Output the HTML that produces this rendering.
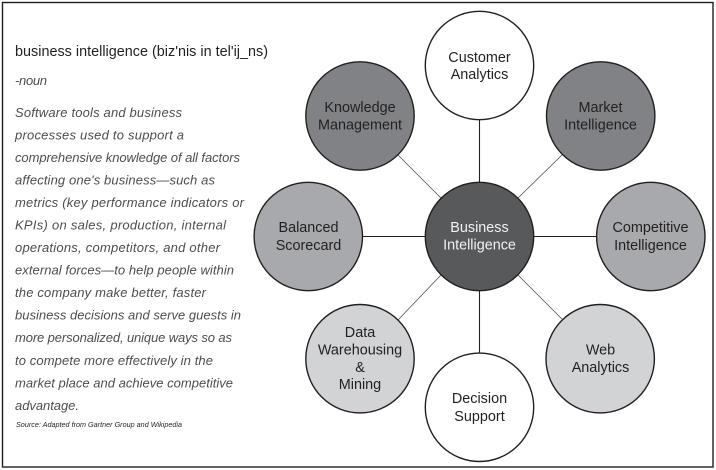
<!DOCTYPE html>
<html><head><meta charset="utf-8"><style>
html,body{margin:0;padding:0;background:#fff}
svg{display:block}
text{font-family:"Liberation Sans",sans-serif;fill:#231f20}
.c{font-size:14.4px;text-anchor:middle}
.b{font-size:13px;font-style:italic;fill:#4d4d4f}
circle{stroke:#231f20;stroke-width:1.4}
</style></head><body>
<svg width="716" height="470" viewBox="0 0 716 470" xmlns="http://www.w3.org/2000/svg">
<rect width="716" height="470" fill="#fff"/>
<rect x="2.5" y="2.5" width="710.5" height="464.5" fill="none" stroke="#231f20" stroke-width="1.4"/>

<g stroke="#231f20" stroke-width="1.1">
<line x1="479.5" y1="120" x2="479.5" y2="353"/>
<line x1="362" y1="236.5" x2="597" y2="236.5"/>
</g>
<g stroke="#4d4d4f" stroke-width="0.8">
<line x1="398" y1="155" x2="441" y2="198"/>
<line x1="562" y1="155" x2="518" y2="198"/>
<line x1="398" y1="320" x2="441" y2="275"/>
<line x1="562" y1="319" x2="518" y2="275"/>
</g>

<circle cx="479.5" cy="65.5" r="54.2" fill="#fff"/>
<circle cx="360" cy="116" r="54.2" fill="#808285"/>
<circle cx="600.7" cy="116" r="54.2" fill="#808285"/>
<circle cx="308.3" cy="236.5" r="54.2" fill="#a7a9ac"/>
<circle cx="650.8" cy="236.5" r="54.2" fill="#a7a9ac"/>
<circle cx="360" cy="358.7" r="54.2" fill="#d1d3d4"/>
<circle cx="600.2" cy="358.7" r="54.2" fill="#d1d3d4"/>
<circle cx="479.5" cy="407.3" r="54.2" fill="#fff"/>
<circle cx="479.5" cy="236.5" r="54.2" fill="#58595b"/>

<text class="c" x="479.5" y="62">Customer</text>
<text class="c" x="479.5" y="79">Analytics</text>
<text class="c" x="360" y="112">Knowledge</text>
<text class="c" x="360" y="129.3">Management</text>
<text class="c" x="600.5" y="112">Market</text>
<text class="c" x="600.5" y="129.3">Intelligence</text>
<text class="c" x="308.5" y="232">Balanced</text>
<text class="c" x="308.5" y="250">Scorecard</text>
<text class="c" x="650.5" y="232">Competitive</text>
<text class="c" x="650.5" y="250">Intelligence</text>
<text class="c" x="479.5" y="232" style="fill:#f1f2f2">Business</text>
<text class="c" x="479.5" y="249.5" style="fill:#f1f2f2">Intelligence</text>
<text class="c" x="360" y="337">Data</text>
<text class="c" x="360" y="354.5">Warehousing</text>
<text class="c" x="360" y="372">&amp;</text>
<text class="c" x="360" y="389">Mining</text>
<text class="c" x="600.5" y="354.5">Web</text>
<text class="c" x="600.5" y="372">Analytics</text>
<text class="c" x="479.5" y="403">Decision</text>
<text class="c" x="479.5" y="421">Support</text>

<text x="15" y="56" font-size="14.4" textLength="253" lengthAdjust="spacing">business intelligence (biz'nis in tel'ij_ns)</text>
<text class="b" x="15" y="85" textLength="32" lengthAdjust="spacing">-noun</text>

<text class="b" x="15" y="117" textLength="167" lengthAdjust="spacing">Software tools and business</text>
<text class="b" x="15" y="139.5" textLength="169" lengthAdjust="spacing">processes used to support a</text>
<text class="b" x="15" y="162" textLength="225" lengthAdjust="spacing">comprehensive knowledge of all factors</text>
<text class="b" x="15" y="184.5" textLength="200" lengthAdjust="spacing">affecting one's business—such as</text>
<text class="b" x="15" y="207" textLength="229" lengthAdjust="spacing">metrics (key performance indicators or</text>
<text class="b" x="15" y="229.5" textLength="211" lengthAdjust="spacing">KPIs) on sales, production, internal</text>
<text class="b" x="15" y="252" textLength="205" lengthAdjust="spacing">operations, competitors, and other</text>
<text class="b" x="15" y="274.5" textLength="219" lengthAdjust="spacing">external forces—to help people within</text>
<text class="b" x="15" y="297" textLength="191" lengthAdjust="spacing">the company make better, faster</text>
<text class="b" x="15" y="319.5" textLength="226" lengthAdjust="spacing">business decisions and serve guests in</text>
<text class="b" x="15" y="342" textLength="217" lengthAdjust="spacing">more personalized, unique ways so as</text>
<text class="b" x="15" y="365" textLength="198" lengthAdjust="spacing">to compete more effectively in the</text>
<text class="b" x="15" y="387.5" textLength="218" lengthAdjust="spacing">market place and achieve competitive</text>
<text class="b" x="15" y="410" textLength="64" lengthAdjust="spacing">advantage.</text>

<text x="16" y="427" font-size="7.2" font-style="italic" textLength="166" lengthAdjust="spacing">Source: Adapted from Gartner Group and Wikipedia</text>
</svg>
</body></html>
